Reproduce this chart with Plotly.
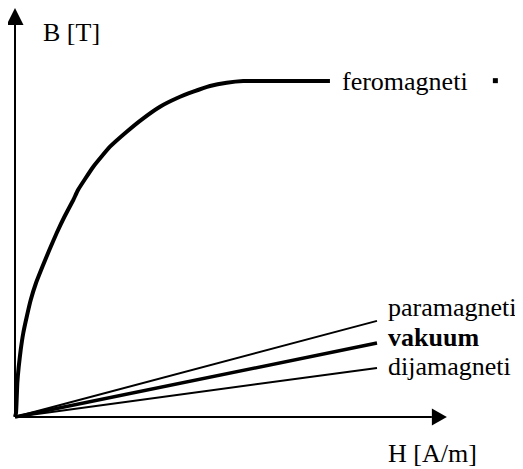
import plotly.graph_objects as go

# Ferromagnetic magnetisation curve (H, B in arbitrary units)
ferro_H = [0, 0.28, 0.64, 1.02, 1.57, 2.29, 3.23, 4.34, 5.80, 7.54, 9.48, 11.52, 13.62,
           16.10, 17.40, 21.63, 26.24, 30.86, 35.44, 40.06, 44.67, 49.25, 53.87, 58.48,
           63.07, 67.68, 87.0]
ferro_B = [0, 1.19, 10.12, 14.88, 19.94, 25.0, 29.76, 34.82, 39.88, 44.64, 49.70, 54.76, 59.52,
           64.58, 67.56, 74.49, 80.45, 84.91, 88.90, 92.35, 94.85, 96.82, 98.51, 99.49,
           100.0, 100.0, 100.0]

# Linear materials
lin_H = [0, 100]
para_B = [0, 28.6]
vak_B = [0, 22.0]
dija_B = [0, 14.6]

# Axis extents (arrow tips)
H_max = 119.3
B_max = 121.7

# Stray dot next to the ferromagnet label
dot_H = [132.7]
dot_B = [100.1]

# Labels: (text, H, B)
label_ferro = ("feromagneti", 89.7, 100.0)
label_para = ("paramagneti", 102.5, 32.7)
label_vak = ("<b>vakuum</b>", 102.5, 23.8)
label_dija = ("dijamagneti", 102.5, 14.9)
label_B = ("B [T]", 7.2, 114.3)
label_H = ("H [A/m]", 102.5, -11.0)

# Page offset of the plot (body margin) and pixel mapping
page_off = 8
W, Hh = 523 - page_off, 469 - page_off
sx, sy = 3.62, 3.36
ox, oy = 15 - page_off, 417 - page_off
x_range = [-ox / sx, (W - ox) / sx]
y_range = [-(Hh - oy) / sy, oy / sy]

fig = go.Figure()
fig.add_trace(go.Scatter(x=ferro_H, y=ferro_B, mode="lines",
                         line=dict(color="black", width=4, shape="spline", smoothing=0.4)))
fig.add_trace(go.Scatter(x=lin_H, y=para_B, mode="lines", line=dict(color="black", width=2)))
fig.add_trace(go.Scatter(x=lin_H, y=vak_B, mode="lines", line=dict(color="black", width=3.5)))
fig.add_trace(go.Scatter(x=lin_H, y=dija_B, mode="lines", line=dict(color="black", width=2)))
fig.add_trace(go.Scatter(x=dot_H, y=dot_B, mode="markers",
                         marker=dict(symbol="square", size=5, color="black")))

# Axes with arrow heads
ah_len_x = 15 / sx
ah_half_y = 8.5 / sy
ah_len_y = 17 / sy
ah_half_x = 8.5 / sx
fig.add_shape(type="line", x0=0, y0=0, x1=H_max - ah_len_x, y1=0, line=dict(color="black", width=2))
fig.add_shape(type="line", x0=0, y0=0, x1=0, y1=B_max - ah_len_y, line=dict(color="black", width=2))
fig.add_shape(type="path",
              path=f"M {H_max - ah_len_x} {-ah_half_y} L {H_max} 0 L {H_max - ah_len_x} {ah_half_y} Z",
              fillcolor="black", line=dict(color="black", width=0))
fig.add_shape(type="path",
              path=f"M {-ah_half_x} {B_max - ah_len_y} L 0 {B_max} L {ah_half_x} {B_max - ah_len_y} Z",
              fillcolor="black", line=dict(color="black", width=0))

font = dict(family="Liberation Serif", size=26, color="black")
for text, hx, by in [label_ferro, label_para, label_vak, label_dija, label_B, label_H]:
    fig.add_annotation(x=hx, y=by, text=text, showarrow=False, xanchor="left", yanchor="middle",
                       font=font)

fig.update_layout(
    width=W, height=Hh,
    margin=dict(l=0, r=0, t=0, b=0),
    paper_bgcolor="white", plot_bgcolor="white",
    showlegend=False,
    xaxis=dict(range=x_range, visible=False, fixedrange=True),
    yaxis=dict(range=y_range, visible=False, fixedrange=True),
)

fig.write_html("out.html")
